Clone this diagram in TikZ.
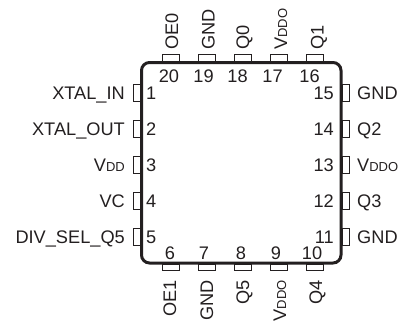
\documentclass[tikz,border=0pt]{standalone}
\usepackage{fontspec}
\setmainfont{Liberation Sans}
\usepackage{xcolor}
\definecolor{chipInk}{RGB}{35,31,32}
\newcommand{\supply}[1]{V{\fontsize{13}{13}\selectfont #1}}
\tikzset{
  chiptext/.style={text=chipInk, inner sep=0pt, font=\fontsize{18.2}{18.2}\selectfont},
  chippin/.style={draw=chipInk, line width=0.7pt}
}
\begin{document}
\begin{tikzpicture}[x=1pt, y=-1pt]
  \useasboundingbox (0,0) rectangle (401,321);
  % package outline
  \draw [chipInk, line width=3pt, rounded corners=8pt] (141.5,62.5) rectangle (341,263);
  % left and right pins
  \foreach \y in {92.5,129,165,201,237} {
    \draw [chippin] (133,\y-8.5) rectangle (140,\y+8.5);
    \draw [chippin] (342.5,\y-8.5) rectangle (349,\y+8.5);
  }
  % top and bottom pins
  \foreach \x in {171,207,243,279,315} {
    \draw [chippin] (\x-8.5,54.5) rectangle (\x+8.5,61);
    \draw [chippin] (\x-8.5,264.5) rectangle (\x+8.5,270.5);
  }
  % left side
  \foreach \n/\y/\t in {1/99/XTAL\_IN, 2/135.5/XTAL\_OUT, 3/171.5/\supply{DD}, 4/207.5/VC, 5/243.5/DIV\_SEL\_Q5} {
    \node (num\n) [chiptext, anchor=base west] at (146,\y) {\n};
    \node (name\n) [chiptext, anchor=base east] at (125,\y) {\t};
  }
  % right side
  \foreach \n/\y/\t in {15/99/GND, 14/135.5/Q2, 13/171.5/\supply{DDO}, 12/207.5/Q3, 11/243.5/GND} {
    \node (num\n) [chiptext, anchor=base east] at (334,\y) {\n};
    \node (name\n) [chiptext, anchor=base west] at (357,\y) {\t};
  }
  % top side
  \foreach \n/\x/\a/\t in {20/169/178/OE0, 19/203.5/214.5/GND, 18/237.5/249/Q0, 17/272.5/287/\supply{DDO}, 16/309.5/323.5/Q1} {
    \node (num\n) [chiptext, anchor=base] at (\x,82) {\n};
    \node (name\n) [chiptext, rotate=90, anchor=base west] at (\a,50) {\t};
  }
  % bottom side
  \foreach \n/\x/\a/\t in {6/170/176/OE1, 7/204/213/GND, 8/241/249/Q5, 9/276/286/\supply{DDO}, 10/312/322/Q4} {
    \node (num\n) [chiptext, anchor=base] at (\x,259) {\n};
    \node (name\n) [chiptext, rotate=90, anchor=base east] at (\a,280) {\t};
  }
\end{tikzpicture}
\end{document}
